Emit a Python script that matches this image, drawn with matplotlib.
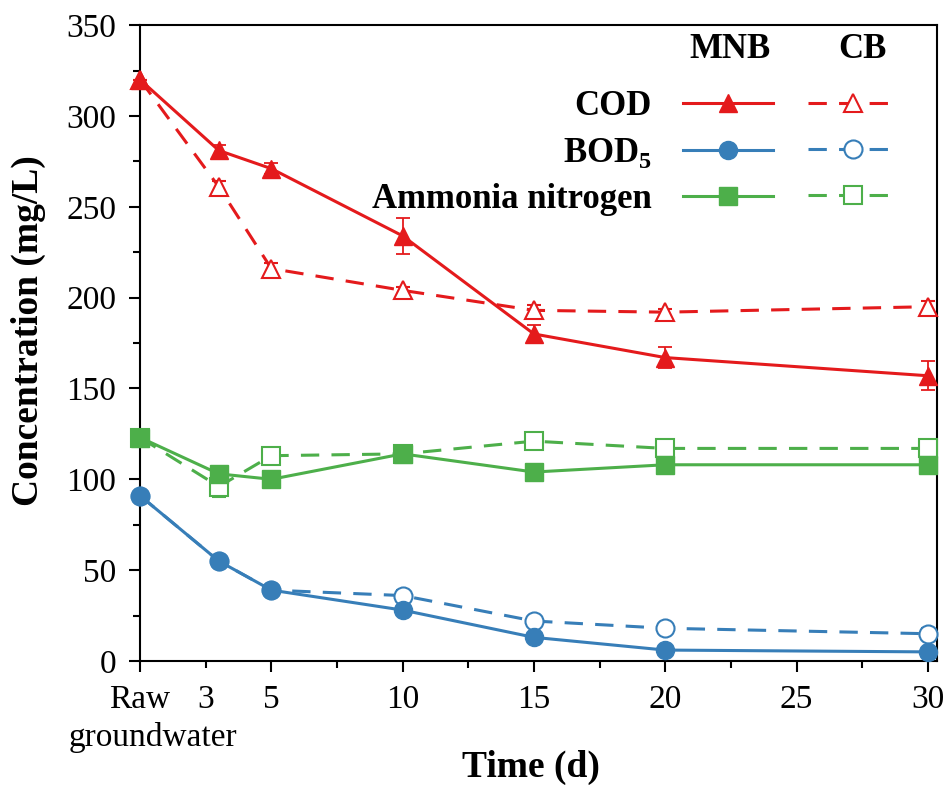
import matplotlib
matplotlib.use("Agg")
import matplotlib.pyplot as plt
from matplotlib.ticker import MultipleLocator, FixedLocator, FixedFormatter

plt.rcParams['font.family'] = ['Liberation Serif', 'DejaVu Serif']
plt.rcParams['mathtext.fontset'] = 'custom'
plt.rcParams['mathtext.rm'] = 'Liberation Serif'
plt.rcParams['mathtext.bf'] = 'Liberation Serif:bold'

# sampling days (0 = raw groundwater)
days = [0, 3, 5, 10, 15, 20, 30]

cod_mnb = [320, 281, 271, 234, 180, 167, 157]
cod_mnb_err = [0, 3, 3, 10, 5, 6, 8]
cod_cb = [320, 261, 216, 204, 193, 192, 195]
cod_cb_err = [0, 3, 3, 2, 3, 2, 3]

bod_mnb = [91, 55, 39, 28, 13, 6, 5]
bod_mnb_err = [0, 2, 2, 2, 2, 2, 2]
bod_cb = [91, 55, 39, 36, 22, 18, 15]
bod_cb_err = [0, 3, 3, 3, 3, 3, 3]

nh_mnb = [123, 103, 100, 114, 104, 108, 108]
nh_mnb_err = [0, 3, 2, 2, 2, 2, 2]
nh_cb = [123, 96, 113, 114, 121, 117, 117]
nh_cb_err = [0, 6, 3, 2, 2, 3, 3]

row_labels = ['COD', r'BOD$_\mathbf{5}$', 'Ammonia nitrogen']
red, blue, green = '#e41a1c', '#377eb8', '#4daf4a'

fig = plt.figure(figsize=(9.48, 7.85), dpi=100)
ax = fig.add_axes([0.1477, 0.158, 0.8407, 0.81])

lw = 2.2
ms = 13
dash = (0, (6, 4))

series = [
    (cod_mnb, cod_mnb_err, cod_cb, cod_cb_err, red, '^'),
    (bod_mnb, bod_mnb_err, bod_cb, bod_cb_err, blue, 'o'),
    (nh_mnb, nh_mnb_err, nh_cb, nh_cb_err, green, 's'),
]

h_mnb, h_cb = [], []
for mnb, mnb_e, cb, cb_e, c, m in series:
    e2 = ax.errorbar(days, cb, yerr=cb_e, color=c, lw=lw, ls=dash, marker=m,
                     ms=ms, mfc='white', mec=c, mew=1.5, capsize=5,
                     elinewidth=1.3, capthick=1.3, clip_on=False, zorder=3)
    e1 = ax.errorbar(days, mnb, yerr=mnb_e, color=c, lw=lw, ls='-', marker=m,
                     ms=ms, mfc=c, mec=c, capsize=5,
                     elinewidth=1.3, capthick=1.3, clip_on=False, zorder=4)
    h_mnb.append(e1[0])
    h_cb.append(e2[0])

ax.set_xlim(0, 30.35)
ax.set_ylim(0, 350)

ax.xaxis.set_major_locator(FixedLocator([0, 5, 10, 15, 20, 25, 30]))
ax.xaxis.set_major_formatter(FixedFormatter(['Raw', '5', '10', '15', '20', '25', '30']))
ax.xaxis.set_minor_locator(FixedLocator([2.5, 7.5, 12.5, 17.5, 22.5, 27.5]))
ax.xaxis.set_minor_formatter(FixedFormatter(['3', '', '', '', '', '']))
ax.yaxis.set_major_locator(MultipleLocator(50))
ax.yaxis.set_minor_locator(MultipleLocator(25))

ax.tick_params(which='both', direction='out', width=1.5, labelsize=24)
ax.tick_params(which='major', length=8, pad=9)
ax.tick_params(which='minor', length=5, pad=12)
for s in ax.spines.values():
    s.set_linewidth(1.5)

ax.text(0.5, -0.12, 'groundwater', transform=ax.get_xaxis_transform(),
        ha='center', va='center', fontsize=24)

ax.set_xlabel('Time (d)', fontsize=27, fontweight='bold')
ax.xaxis.set_label_coords(0.49, -0.14)
ax.set_ylabel('Concentration (mg/L)', fontsize=27, fontweight='bold')
ax.yaxis.set_label_coords(-0.118, 0.52)

leg = ax.legend(h_mnb + h_cb, row_labels + ['', '', ''], ncol=2,
                markerfirst=False, frameon=False, loc='upper right',
                bbox_to_anchor=(0.951, 0.898), borderpad=0, borderaxespad=0,
                handlelength=2.6, handletextpad=0.9, columnspacing=0.1,
                labelspacing=0.37, prop={'weight': 'bold', 'size': 25})

ax.text(0.740, 0.962, 'MNB', transform=ax.transAxes, ha='center', va='center',
        fontsize=25, fontweight='bold')
ax.text(0.906, 0.962, 'CB', transform=ax.transAxes, ha='center', va='center',
        fontsize=25, fontweight='bold')

fig.savefig('out.png', dpi=100)
